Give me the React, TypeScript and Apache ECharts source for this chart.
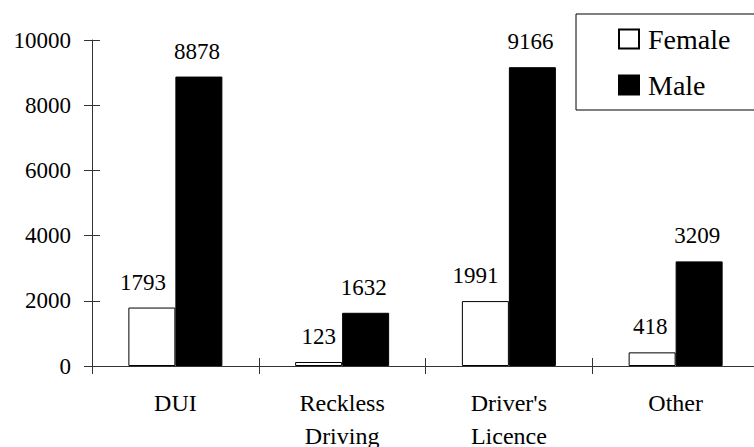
import React, { useEffect, useRef } from "react";
import * as echarts from "echarts";

// Offence categories and counts by sex
const categories = ["DUI", "Reckless\nDriving", "Driver's\nLicence", "Other"];
const femaleCounts = [1793, 123, 1991, 418];
const maleCounts = [8878, 1632, 9166, 3209];
const yTicks = { min: 0, max: 10000, interval: 2000 };

// Horizontal nudge of each female value label (px)
const femaleLabelShift = [-9, 0, -10, -2];

const FONT = "Liberation Serif";

export default function App() {
  const ref = useRef<HTMLDivElement>(null);

  useEffect(() => {
    if (!ref.current) return;
    const chart = echarts.init(ref.current, null, { renderer: "svg", width: 754, height: 447 });

    const axisLineStyle = { color: "#333", width: 1 };

    chart.setOption({
      animation: false,
      backgroundColor: "#fff",
      grid: {
        left: 92,
        top: 40,
        bottom: 81,
        right: -5,
        containLabel: false,
        outerBoundsMode: "none",
      },
      legend: {
        orient: "vertical",
        left: 576,
        top: 14,
        padding: [11, 40, 11, 42],
        itemGap: 18,
        itemWidth: 20,
        itemHeight: 19,
        icon: "rect",
        borderColor: "#000",
        borderWidth: 1,
        backgroundColor: "#fff",
        textStyle: { fontFamily: FONT, fontSize: 28, color: "#000", padding: [0, 0, 0, 4] },
        data: ["Female", "Male"],
      },
      xAxis: [
        {
          type: "category",
          data: categories,
          boundaryGap: true,
          axisLine: { show: true, lineStyle: axisLineStyle },
          axisTick: { show: true, length: 8, inside: false, lineStyle: axisLineStyle },
          axisLabel: {
            fontFamily: FONT,
            fontSize: 24,
            color: "#000",
            lineHeight: 33,
            margin: 20,
            interval: 0,
          },
        },
        {
          type: "category",
          data: categories,
          boundaryGap: true,
          position: "bottom",
          axisLine: { show: false },
          axisTick: { show: true, length: 8, inside: true, lineStyle: axisLineStyle },
          axisLabel: { show: false },
        },
      ],
      yAxis: [
        {
          type: "value",
          min: yTicks.min,
          max: yTicks.max,
          interval: yTicks.interval,
          splitLine: { show: false },
          axisLine: { show: true, lineStyle: axisLineStyle },
          axisTick: { show: true, length: 8, inside: false, lineStyle: axisLineStyle },
          axisLabel: {
            fontFamily: FONT,
            fontSize: 23,
            color: "#000",
            margin: 21,
            formatter: (v: number) => String(v),
          },
        },
        {
          type: "value",
          min: yTicks.min,
          max: yTicks.max,
          interval: yTicks.interval,
          position: "left",
          splitLine: { show: false },
          axisLine: { show: false },
          axisTick: { show: true, length: 8, inside: true, lineStyle: axisLineStyle },
          axisLabel: { show: false },
        },
      ],
      series: [
        {
          name: "Female",
          type: "bar",
          barWidth: 47,
          barGap: "0%",
          itemStyle: { color: "#fff", borderColor: "#000", borderWidth: 1 },
          label: {
            show: true,
            position: "top",
            distance: 14,
            fontFamily: FONT,
            fontSize: 23,
            color: "#000",
          },
          data: femaleCounts.map((v, i) => ({
            value: v,
            label: { offset: [femaleLabelShift[i], 0] },
          })),
        },
        {
          name: "Male",
          type: "bar",
          barWidth: 47,
          barGap: "0%",
          itemStyle: { color: "#000", borderColor: "#000", borderWidth: 1 },
          label: {
            show: true,
            position: "top",
            distance: 14,
            offset: [-2, 0],
            fontFamily: FONT,
            fontSize: 23,
            color: "#000",
          },
          data: maleCounts,
        },
      ],
    });

    return () => chart.dispose();
  }, []);

  return (
    <>
      <style>{`.offence-chart text { font-family: "Liberation Serif", "Times New Roman", serif !important; }`}</style>
      <div
        ref={ref}
        className="offence-chart"
        style={{ position: "fixed", left: 0, top: 0, width: 754, height: 447, background: "#fff" }}
      />
    </>
  );
}
